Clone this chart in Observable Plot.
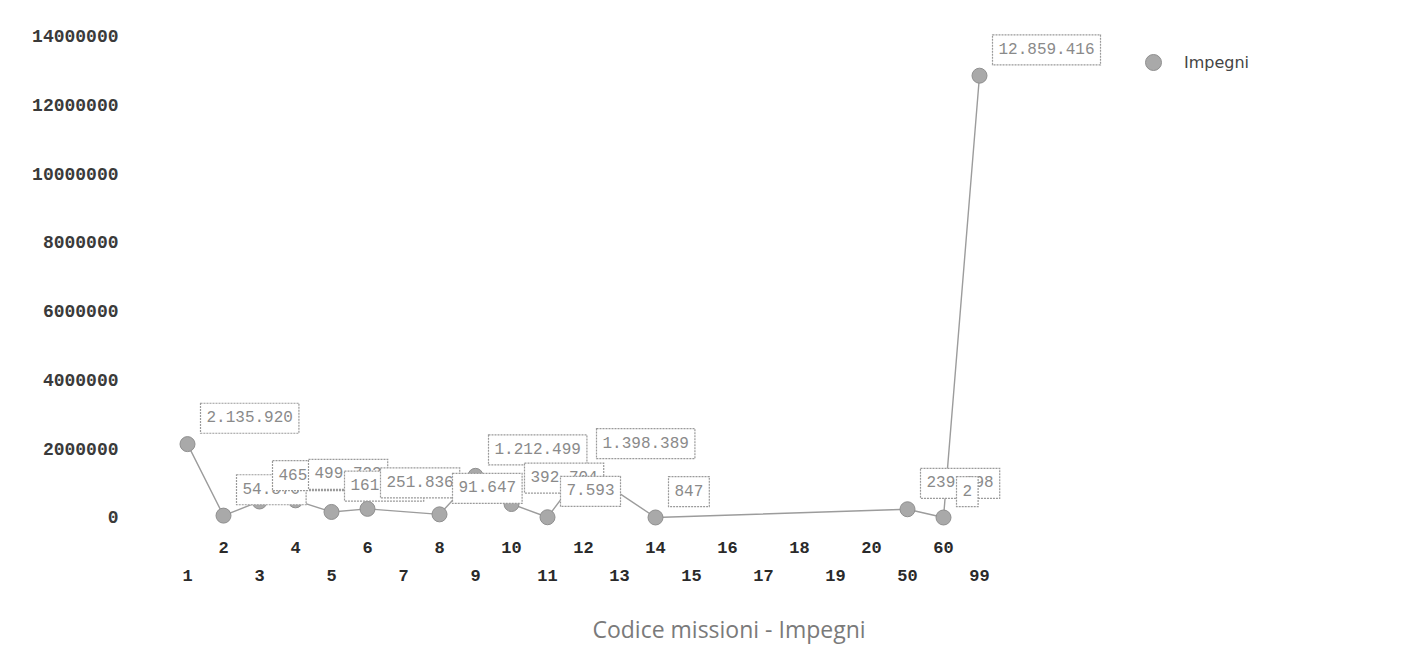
<!DOCTYPE html>
<html><head><meta charset="utf-8">
<script src="https://cdn.jsdelivr.net/npm/d3@7"></script>
<script src="https://cdn.jsdelivr.net/npm/@observablehq/plot@0.6"></script>
<style>
body{margin:0;background:#fff;width:1420px;height:658px;overflow:hidden;position:relative;}
#chart{position:absolute;left:0;top:0;}
#legend{position:absolute;left:1145px;top:50px;height:24px;font:16px "DejaVu Sans",sans-serif;color:#444;display:flex;align-items:center;gap:22px}
#legend .sw{display:inline-block;width:17px;height:17px;border-radius:50%;background:#a9a9a9;border:1px solid #8f8f8f;box-sizing:border-box}
#title{position:absolute;left:729px;top:611px;transform:translateX(-50%);white-space:nowrap;font:23px "Open Sans",sans-serif;color:#7a7a7a;line-height:36px}
</style></head><body>
<div id="chart"></div>
<div id="legend"><span class="sw"></span><span id="legtxt"></span></div>
<div id="title"></div>
<script>
// ---- data ----
const categories = ["1","2","3","4","5","6","7","8","9","10","11","12","13","14","15","16","17","18","19","20","50","60","99"];
const impegni = [2135920, 54870, 465870, 499723, 161340, 251836, null, 91647, 1212499, 392704, 7593, 1398389, null, 847, null, null, null, null, null, null, 239898, 2, 12859416];
const yTicks = [0, 2000000, 4000000, 6000000, 8000000, 10000000, 12000000, 14000000];
const seriesName = "Impegni";
const titleText = "Codice missioni - Impegni";

// ---- chart ----
const fmt = d3.formatLocale({decimal: ",", thousands: ".", grouping: [3], currency: ["€", ""]}).format(",d");
const rows = categories.map((c, i) => ({code: c, value: impegni[i]})).filter(d => d.value != null);
const topRow = categories.filter((c, i) => i % 2 === 1);
const bottomRow = categories.filter((c, i) => i % 2 === 0);

const chart = Plot.plot({
  width: 1420, height: 605,
  marginLeft: 125, marginRight: 20, marginTop: 20, marginBottom: 75,
  style: {fontFamily: "'Liberation Mono', monospace", background: "#fff", overflow: "visible"},
  x: {type: "point", padding: 0, domain: categories, range: [185, 980], axis: null},
  y: {domain: [0, 14000000], range: [517, 36], axis: null},
  marks: [
    Plot.axisY({ticks: yTicks, tickSize: 0, tickPadding: 7, tickFormat: d => String(d), fontSize: 18, fontWeight: "bold", fill: "#3a3a3a", label: null}),
    Plot.line(rows, {x: "code", y: "value", stroke: "#9c9c9c", strokeWidth: 1.4}),
    Plot.dot(rows, {x: "code", y: "value", r: 7.5, fill: "#a9a9a9", stroke: "#8f8f8f", strokeWidth: 1}),
    Plot.text(rows, {x: "code", y: "value", text: d => fmt(d.value), textAnchor: "start", dx: 19, dy: -27, fill: "#8a8a8a", fontSize: 16}),
    Plot.text(topRow, {x: d => d, text: d => d, frameAnchor: "bottom", dy: 22, fontSize: 17, fontWeight: "bold", fill: "#2a2a2a"}),
    Plot.text(bottomRow, {x: d => d, text: d => d, frameAnchor: "bottom", dy: 50, fontSize: 17, fontWeight: "bold", fill: "#2a2a2a"})
  ]
});
document.getElementById("chart").append(chart);
document.getElementById("legtxt").textContent = seriesName;
document.getElementById("title").textContent = titleText;

// boxes behind the value labels
const lg = chart.querySelector('g[fill="#8a8a8a"]');
if (lg) {
  for (const t of Array.from(lg.querySelectorAll("text"))) {
    const b = t.getBBox();
    const r = document.createElementNS("http://www.w3.org/2000/svg", "rect");
    r.setAttribute("x", b.x - 6);
    r.setAttribute("y", b.y - 6);
    r.setAttribute("width", b.width + 12);
    r.setAttribute("height", b.height + 12);
    r.setAttribute("fill", "#fff");
    r.setAttribute("stroke", "#9a9a9a");
    r.setAttribute("stroke-width", "1.2");
    r.setAttribute("stroke-dasharray", "2,1");
    const tr = t.getAttribute("transform");
    if (tr) r.setAttribute("transform", tr);
    lg.insertBefore(r, t);
  }
}
</script>
</body></html>
